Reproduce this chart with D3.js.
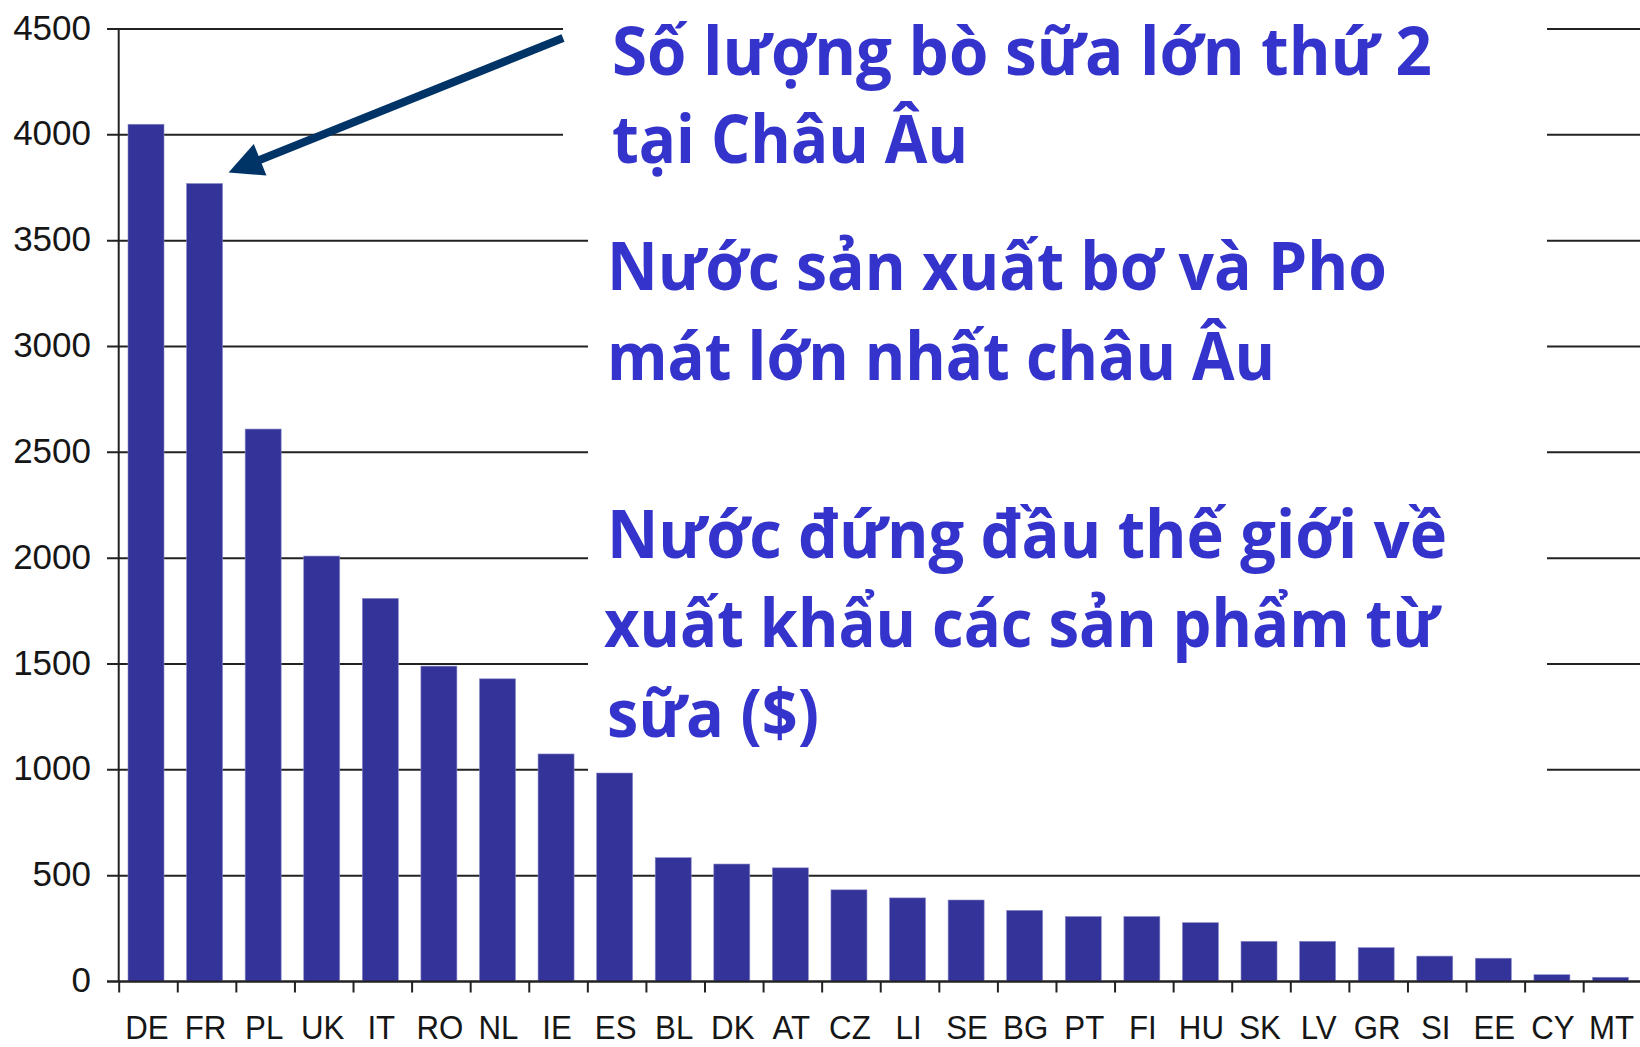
<!DOCTYPE html>
<head>
  <meta charset="utf-8">
  <script src="https://d3js.org/d3.v7.min.js"></script>
  <style type="text/css">
    body { margin:0; background:#fff; }
    .grid line { stroke:#222; stroke-width:2; }
    .bar { fill:#333399; stroke:#8a8ac8; stroke-width:0.6; }
    .ylab, .xlab { font-family:"Liberation Sans", Arial, sans-serif; fill:#161616; }
    .note { font-family:"Open Sans", "Noto Sans", sans-serif; font-weight:700; fill:#3434cc; }
  </style>
</head>

<body>
  <script>
  // data
  var countries = ["DE","FR","PL","UK","IT","RO","NL","IE","ES","BL","DK","AT","CZ",
                   "LI","SE","BG","PT","FI","HU","SK","LV","GR","SI","EE","CY","MT"];
  var cows = [4050,3770,2610,2010,1810,1490,1430,1075,985,585,555,537,433,
              395,385,336,307,307,278,190,190,160,120,110,32,20];
  var yTicks = [0,500,1000,1500,2000,2500,3000,3500,4000,4500];
  var notes = ["Số lượng bò sữa lớn thứ 2", "tại Châu Âu",
               "Nước sản xuất bơ và Pho", "mát lớn nhất châu Âu",
               "Nước đứng đầu thế giới về", "xuất khẩu các sản phẩm từ", "sữa ($)"];

  // note layout: left, baseline, width of each line
  var noteLayout = [[612, 75, 820], [612, 163, 356],
                    [607, 290, 780], [607, 380, 668],
                    [607, 558, 840], [604, 647, 835], [607, 737, 212]];

  var W = 1640, H = 1047;
  var step = 58.58, x0 = 119.2;

  var svg = d3.select("body").append("svg")
    .attr("width", W).attr("height", H);

  var x = d3.scaleBand()
    .domain(countries)
    .range([x0, x0 + step * countries.length])
    .padding(0);

  var y = d3.scaleLinear()
    .domain([0, 4500])
    .range([981.5, 29]);

  // gridlines (also act as y ticks)
  svg.append("g").attr("class", "grid")
    .selectAll("line").data(yTicks).enter().append("line")
    .attr("x1", 107).attr("x2", W)
    .attr("y1", function(d) { return y(d); })
    .attr("y2", function(d) { return y(d); });

  // y axis line
  svg.append("line")
    .attr("x1", x0 - 0.5).attr("x2", x0 - 0.5)
    .attr("y1", y(4500)).attr("y2", y(0))
    .style("stroke", "#222").style("stroke-width", 2);

  svg.selectAll(".ylab").data(yTicks).enter().append("text")
    .attr("class", "ylab")
    .attr("x", 91)
    .attr("y", function(d) { return y(d); })
    .attr("dy", "0.3em")
    .attr("text-anchor", "end")
    .style("font-size", "35px")
    .text(function(d) { return d; });

  // white boxes behind the notes hide the gridlines
  svg.append("rect").attr("x", 563).attr("y", 0)
    .attr("width", 1547 - 563).attr("height", 195).attr("fill", "#fff");
  svg.append("rect").attr("x", 588).attr("y", 195)
    .attr("width", 1547 - 588).attr("height", 610).attr("fill", "#fff");

  // bars
  var bw = 36, off = 8.8;
  svg.selectAll(".bar").data(countries).enter().append("rect")
    .attr("class", "bar")
    .attr("x", function(d) { return x(d) + off; })
    .attr("width", bw)
    .attr("y", function(d, i) { return y(cows[i]); })
    .attr("height", function(d, i) { return y(0) - y(cows[i]); });

  // x axis
  var xa = svg.append("g");
  xa.append("line")
    .attr("x1", 107).attr("x2", W)
    .attr("y1", y(0)).attr("y2", y(0))
    .style("stroke", "#222").style("stroke-width", 2);
  xa.selectAll(".xt").data(countries).enter().append("line")
    .attr("x1", function(d) { return x(d); })
    .attr("x2", function(d) { return x(d); })
    .attr("y1", y(0)).attr("y2", y(0) + 11)
    .style("stroke", "#222").style("stroke-width", 2);
  xa.selectAll(".xlab").data(countries).enter().append("text")
    .attr("class", "xlab")
    .attr("transform", function(d) {
      return "translate(" + (x(d) + off + bw / 2 + 1) + ",1039) scale(0.92,1)";
    })
    .attr("text-anchor", "middle")
    .style("font-size", "34px")
    .text(function(d) { return d; });

  // arrow to FR bar
  var tipX = x("FR") + off + bw + 6, tipY = y(cows[1]) - 11;
  var sx = 563, sy = 38;
  var dx = tipX - sx, dy = tipY - sy, len = Math.sqrt(dx * dx + dy * dy);
  var ux = dx / len, uy = dy / len, hl = 34, hw = 17;
  var bx = tipX - ux * hl, by = tipY - uy * hl;
  svg.append("line")
    .attr("x1", sx).attr("y1", sy)
    .attr("x2", bx + ux * 4).attr("y2", by + uy * 4)
    .style("stroke", "#003366").style("stroke-width", 8);
  svg.append("path")
    .attr("d", "M" + tipX + "," + tipY +
      "L" + (bx - uy * hw) + "," + (by + ux * hw) +
      "L" + (bx + uy * hw) + "," + (by - ux * hw) + "Z")
    .style("fill", "#003366");

  // notes, each line squeezed to the width of the narrower original face
  svg.append("g").selectAll(".note").data(notes).enter().append("text")
    .attr("class", "note")
    .attr("x", function(d, i) { return noteLayout[i][0]; })
    .attr("y", function(d, i) { return noteLayout[i][1]; })
    .attr("textLength", function(d, i) { return noteLayout[i][2]; })
    .attr("lengthAdjust", "spacingAndGlyphs")
    .style("font-size", "66px")
    .text(function(d) { return d; });
  </script>
</body>
